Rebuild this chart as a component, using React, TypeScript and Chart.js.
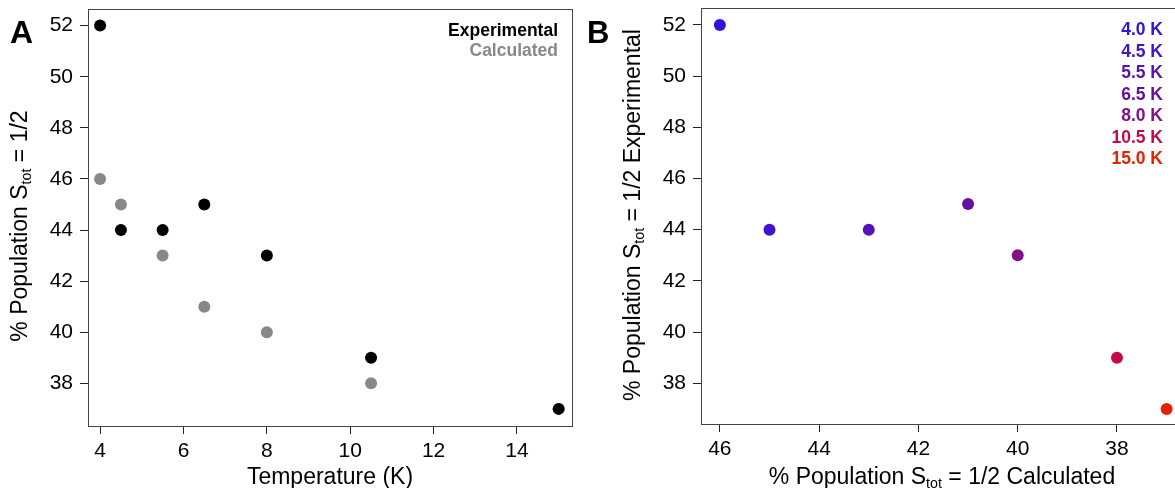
import React, { useEffect, useRef } from "react";
import { Chart, registerables } from "chart.js";

Chart.register(...registerables);

// ---- Data ----
const temperaturesK = [4, 4.5, 5.5, 6.5, 8, 10.5, 15];
const experimental = [52, 44, 44, 45, 43, 39, 37];
const calculated = [46, 45, 43, 41, 40, 38, 37];
const tempLabels = ["4.0 K", "4.5 K", "5.5 K", "6.5 K", "8.0 K", "10.5 K", "15.0 K"];
const tempColors = ["#3311dd", "#4212cc", "#5512b8", "#6610a2", "#850f86", "#c20a4c", "#e32200"];
const yTicks = [38, 40, 42, 44, 46, 48, 50, 52];
const xTicksA = [4, 6, 8, 10, 12, 14];
const xTicksB = [46, 44, 42, 40, 38];

const FONT = "'Liberation Sans', Arial, Helvetica, sans-serif";

const boxPlugin = {
  id: "box",
  afterDraw(chart: any) {
    const { ctx, chartArea } = chart;
    ctx.save();
    ctx.strokeStyle = "#444";
    ctx.lineWidth = 1;
    ctx.strokeRect(
      Math.round(chartArea.left) + 0.5,
      Math.round(chartArea.top) + 0.5,
      Math.round(chartArea.right - chartArea.left),
      Math.round(chartArea.bottom - chartArea.top)
    );
    ctx.restore();
  },
};

function axisCommon(ticks: number[], size: number, isX: boolean) {
  return {
    type: "linear",
    afterBuildTicks: (s: any) => {
      s.ticks = ticks.map((v) => ({ value: v }));
    },
    afterFit: (s: any) => {
      if (isX) {
        s.height = size;
        s.paddingLeft = 0;
        s.paddingRight = 0;
      } else {
        s.width = size;
        s.paddingTop = 0;
        s.paddingBottom = 0;
      }
    },
    grid: { drawOnChartArea: false, tickLength: 8, color: "#222", lineWidth: 1 },
    border: { display: false },
    ticks: {
      font: { family: FONT, size: 21 },
      color: "#000",
      padding: isX ? 5 : 7,
      maxRotation: 0,
      autoSkip: false,
      callback: (v: any) => String(v),
    },
  };
}

function ChartA() {
  const ref = useRef<HTMLCanvasElement>(null);
  useEffect(() => {
    const chart = new Chart(ref.current!, {
      type: "scatter",
      data: {
        datasets: [
          {
            label: "Experimental",
            data: temperaturesK.map((t, i) => ({ x: t, y: experimental[i] })),
            backgroundColor: "#000",
            pointRadius: 6,
            pointBorderWidth: 0,
          },
          {
            label: "Calculated",
            data: temperaturesK.map((t, i) => ({ x: t, y: calculated[i] })),
            backgroundColor: "#888",
            pointRadius: 6,
            pointBorderWidth: 0,
          },
        ],
      },
      options: {
        animation: false,
        responsive: false,
        layout: { padding: { top: 9, right: 18, left: 0, bottom: 0 } },
        plugins: { legend: { display: false }, tooltip: { enabled: false } },
        scales: {
          x: { ...axisCommon(xTicksA, 62, true), min: 3.71, max: 15.32 },
          y: { ...axisCommon(yTicks, 88, false), min: 36.33, max: 52.65 },
        },
      } as any,
      plugins: [boxPlugin],
    });
    return () => chart.destroy();
  }, []);
  return (
    <canvas
      ref={ref}
      width={590}
      height={488}
      style={{ position: "absolute", left: 0, top: 0, width: 590, height: 488 }}
    />
  );
}

function ChartB() {
  const ref = useRef<HTMLCanvasElement>(null);
  useEffect(() => {
    const chart = new Chart(ref.current!, {
      type: "scatter",
      data: {
        datasets: [
          {
            label: "Temperatures",
            data: calculated.map((c, i) => ({ x: c, y: experimental[i] })),
            backgroundColor: tempColors,
            pointRadius: 6,
            pointBorderWidth: 0,
          },
        ],
      },
      options: {
        animation: false,
        responsive: false,
        layout: { padding: { top: 8, right: 6, left: 0, bottom: 0 } },
        plugins: { legend: { display: false }, tooltip: { enabled: false } },
        scales: {
          x: { ...axisCommon(xTicksB, 64, true), min: 36.65, max: 46.38, reverse: true },
          y: { ...axisCommon(yTicks, 111, false), min: 36.41, max: 52.66 },
        },
      } as any,
      plugins: [boxPlugin],
    });
    return () => chart.destroy();
  }, []);
  return (
    <canvas
      ref={ref}
      width={600}
      height={488}
      style={{ position: "absolute", left: 590, top: 0, width: 600, height: 488 }}
    />
  );
}

const Sub = () => (
  <span style={{ fontSize: "0.62em", position: "relative", top: "0.3em" }}>tot</span>
);

const titleStyle: React.CSSProperties = {
  position: "absolute",
  fontFamily: FONT,
  fontSize: 23,
  lineHeight: "23px",
  whiteSpace: "nowrap",
  color: "#000",
};

export default function App() {
  return (
    <div
      style={{
        position: "fixed",
        left: 0,
        top: 0,
        width: 1175,
        height: 488,
        overflow: "hidden",
        background: "#fff",
      }}
    >
      <ChartA />
      <ChartB />

      {/* Panel letters */}
      <div style={{ position: "absolute", left: 10, top: 16, fontFamily: FONT, fontWeight: "bold", fontSize: 32, lineHeight: "32px" }}>A</div>
      <div style={{ position: "absolute", left: 587, top: 17, fontFamily: FONT, fontWeight: "bold", fontSize: 31, lineHeight: "31px" }}>B</div>

      {/* Legend A */}
      <div
        style={{
          position: "absolute",
          right: 1175 - 558,
          top: 20,
          textAlign: "right",
          fontFamily: FONT,
          fontWeight: "bold",
          fontSize: 17.5,
          lineHeight: "20px",
        }}
      >
        <div style={{ color: "#000" }}>Experimental</div>
        <div style={{ color: "#888" }}>Calculated</div>
      </div>

      {/* Legend B */}
      <div
        style={{
          position: "absolute",
          right: 1175 - 1163,
          top: 19,
          textAlign: "right",
          fontFamily: FONT,
          fontWeight: "bold",
          fontSize: 17.5,
          lineHeight: "21.5px",
        }}
      >
        {tempLabels.map((l, i) => (
          <div key={l} style={{ color: tempColors[i] }}>
            {l}
          </div>
        ))}
      </div>

      {/* Axis titles */}
      <div style={{ ...titleStyle, left: 330, top: 465, transform: "translateX(-50%)" }}>Temperature (K)</div>
      <div style={{ ...titleStyle, left: 942, top: 465, transform: "translateX(-50%)" }}>
        % Population S<Sub /> = 1/2 Calculated
      </div>
      <div
        style={{
          ...titleStyle,
          left: 21,
          top: 226,
          transform: "translate(-50%, -50%) rotate(-90deg)",
        }}
      >
        % Population S<Sub /> = 1/2
      </div>
      <div
        style={{
          ...titleStyle,
          left: 634,
          top: 215,
          transform: "translate(-50%, -50%) rotate(-90deg)",
        }}
      >
        % Population S<Sub /> = 1/2 Experimental
      </div>
    </div>
  );
}
